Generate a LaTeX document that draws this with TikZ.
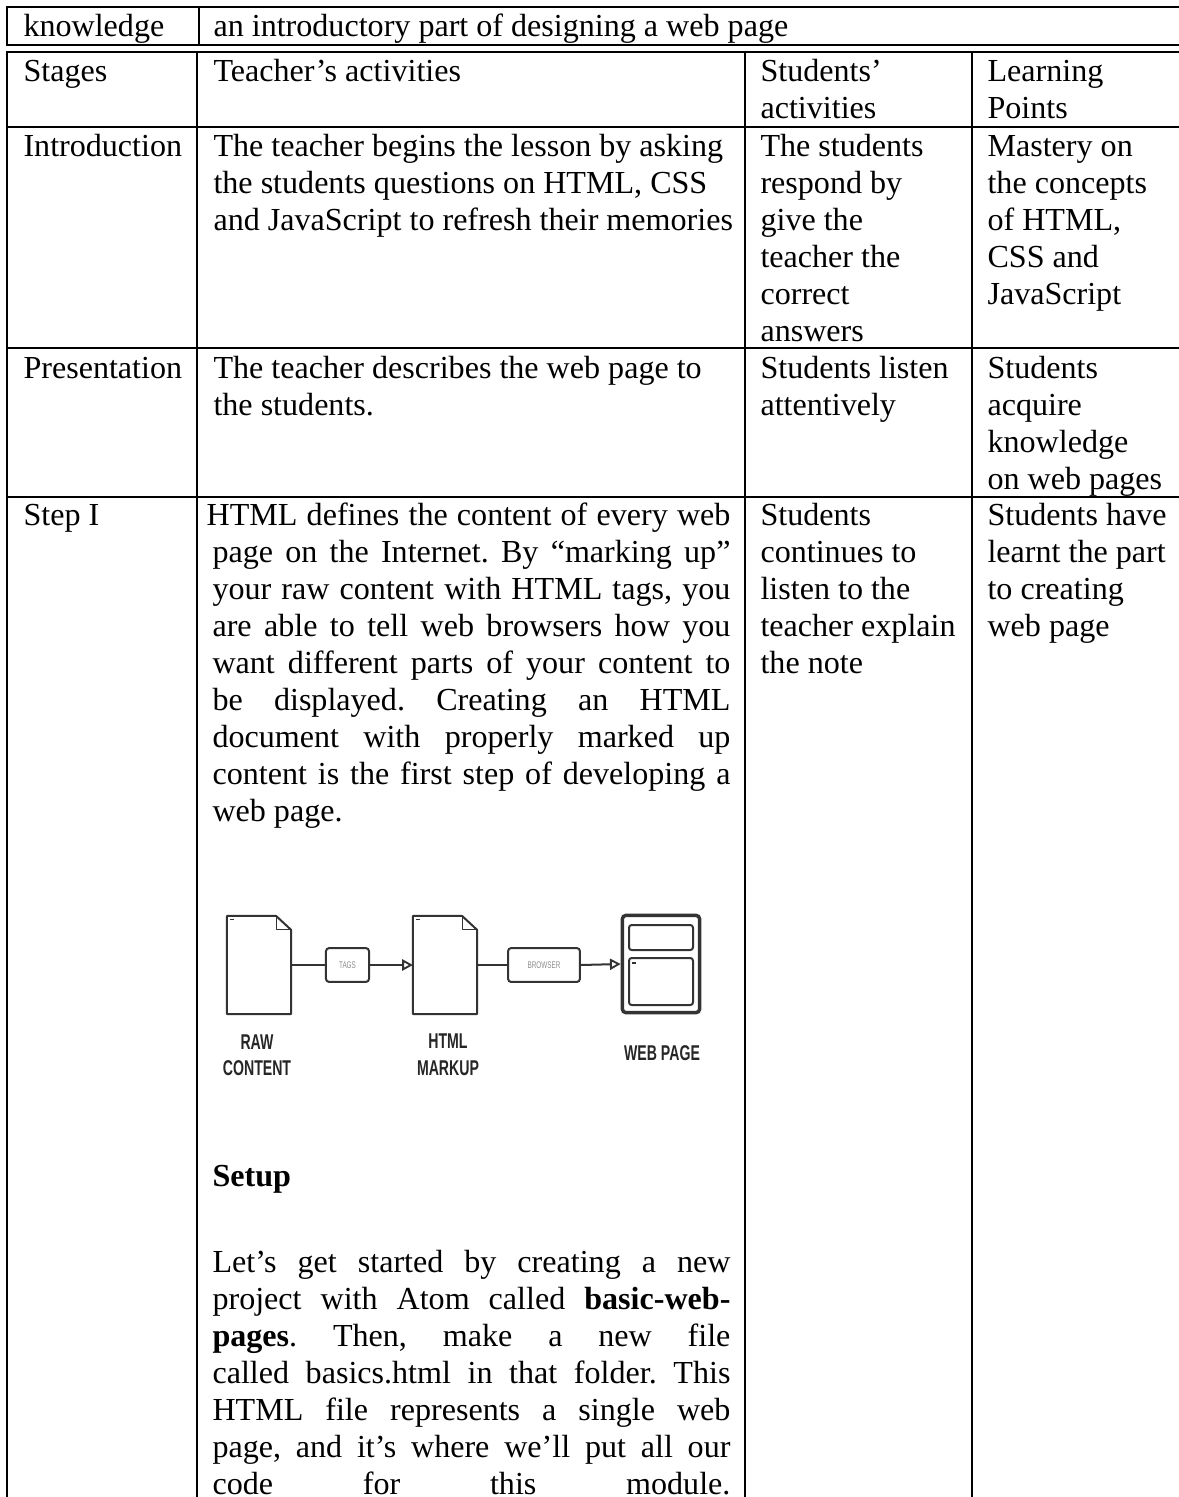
\documentclass[tikz,border=0pt]{standalone}
\usepackage{fontspec}
\usepackage{graphicx}
\setmainfont{Liberation Serif}
\newfontfamily\lblfont[FakeStretch=0.66]{Liberation Sans}
\usetikzlibrary{arrows.meta}
\definecolor{dgray}{HTML}{333333}
\newcommand\cellfont{\fontsize{12}{13.85}\selectfont}
\frenchspacing
\begin{document}
\begin{tikzpicture}[x=0.374pt, y=-0.374pt,
  tbl/.style={line width=0.8pt, line cap=rect, draw=black},
  cell/.style={anchor=north west, inner sep=0pt, align=left, font=\cellfont},
  jcell/.style={anchor=north west, inner sep=0pt, text width=193.7pt, align=justify, font=\cellfont},
  dg/.style={draw=dgray, line width=0.75pt, line join=round},
  conn/.style={draw=dgray, line width=0.75pt},
  arr/.style={conn, -{Triangle[open, length=4pt, width=4.2pt, line width=0.7pt]}},
  docnode/.style={draw=none, minimum width=23.6pt, minimum height=36.3pt, inner sep=0pt},
  lbox/.style={draw=dgray, line width=0.75pt, rounded corners=1.2pt, minimum height=12.7pt, inner sep=0pt, font=\lblfont\fontsize{3.6}{4}\selectfont, text=black!45},
  lbl/.style={anchor=base, inner sep=0pt, font=\lblfont\bfseries\fontsize{8}{9.35}\selectfont, text=black!85}
]
\useasboundingbox (0,0) rectangle (1179,1497);
\fill[white] (0,0) rectangle (1179,1497);

% ---- first (one-row) table
\draw[tbl] (1195,7) -- (7,7) -- (7,45) -- (1195,45);
\draw[tbl] (199,7) -- (199,45);
% ---- main table
\draw[tbl] (1195,52) -- (7,52) -- (7,1510);
\foreach \yy in {127,348,497} \draw[tbl] (7,\yy) -- (1195,\yy);
\foreach \xx in {197,745,972} \draw[tbl] (\xx,52) -- (\xx,1510);

% ---- row texts
\node[cell] (k1) at (23,10) {\strut knowledge};
\node[cell] (k2) at (213,10) {\strut an introductory part of designing a web page};

\node[cell] (h1) at (23,55) {\strut Stages};
\node[cell] (h2) at (213,55) {\strut Teacher’s activities};
\node[cell] (h3) at (760,55) {\strut Students’\\activities};
\node[cell] (h4) at (987,55) {\strut Learning\\Points};

\node[cell] (i1) at (23,130) {\strut Introduction};
\node[cell] (i2) at (213,130) {\strut The teacher begins the lesson by asking\\the students questions on HTML, CSS\\and JavaScript to refresh their memories};
\node[cell] (i3) at (760,130) {\strut The students\\respond by\\give the\\teacher the\\correct\\answers};
\node[cell] (i4) at (987,130) {\strut Mastery on\\the concepts\\of HTML,\\CSS and\\JavaScript};

\node[cell] (p1) at (23,352) {\strut Presentation};
\node[cell] (p2) at (213,352) {\strut The teacher describes the web page to\\the students.};
\node[cell] (p3) at (760,352) {\strut Students listen\\attentively};
\node[cell] (p4) at (987,352) {\strut Students\\acquire\\knowledge\\on web pages};

\node[cell] (s1) at (23,499) {\strut Step I};
\node[jcell] (s2) at (212,499) {\parindent=0pt\tolerance=10000\hbadness=10000\hyphenpenalty=10000%
\hspace*{-2.2pt}\strut HTML defines the content of every web\linebreak
page on the Internet. By “marking up”\linebreak
your raw content with HTML tags, you\linebreak
are able to tell web browsers how you\linebreak
want different parts of your content to\linebreak
be displayed. Creating an HTML\linebreak
document with properly marked up\linebreak
content is the first step of developing a\linebreak
web page.};
\node[cell] (s3) at (760,499) {\strut Students\\continues to\\listen to the\\teacher explain\\the note};
\node[cell] (s4) at (987,499) {\strut Students have\\learnt the part\\to creating\\web page};

% ---- diagram
\node[docnode] (raw) at (259,965) {};
\node[docnode] (htm) at (445,965) {};
\node[lbox, minimum width=16.1pt] (b1) at (347.5,965) {TAGS};
\node[lbox, minimum width=26.9pt] (b2) at (544,965) {BROWSER};
\node[draw=dgray, line width=1pt, rounded corners=1.5pt, minimum width=29.2pt, minimum height=36.7pt, inner sep=0pt] (web) at (661,964) {};

\foreach \d in {raw,htm} {
  \draw[dg] (\d.south west) -- (\d.north west) -- ([xshift=-5.6pt]\d.north east) -- ([yshift=-5.2pt]\d.north east) -- (\d.south east) -- cycle;
  \draw[dg, line width=0.45pt] ([xshift=-5.6pt]\d.north east) -- ([xshift=-5.6pt,yshift=-5.2pt]\d.north east) -- ([yshift=-5.2pt]\d.north east);
  \draw[dg, line width=0.4pt] ([shift={(1.3pt,-1.3pt)}]\d.north west) -- ++(1.2pt,0);
}
\draw[dg, line width=0.4pt, rounded corners=1pt] ([shift={(1.1pt,-1.1pt)}]web.north west) rectangle ([shift={(-1.1pt,1.1pt)}]web.south east);
\draw[dg, rounded corners=1pt] (629,925) rectangle (693,950);
\draw[dg, rounded corners=1pt] (629,958) rectangle (693,1005);
\draw[dg, line width=0.4pt] (632,963) -- (636,963);

\draw[conn] (raw.east) -- (b1.west);
\draw[arr] (b1.east) -- (htm.west);
\draw[conn] (htm.east) -- (b2.west);
\draw[arr] (b2.east) -- (web.west);

\node[lbl] (rawA) at (257,1049) {RAW};
\node[lbl] (rawB) at (257,1075) {CONTENT};
\node[lbl] (htmA) at (448,1048) {HTML};
\node[lbl] (htmB) at (448,1075) {MARKUP};
\node[lbl] (webL) at (662,1060) {WEB PAGE};

% ---- setup
\node[cell, font=\cellfont\bfseries] (setup) at (212,1160) {\strut Setup};
\node[jcell] (sp) at (212,1246) {\parindent=0pt\tolerance=10000\hbadness=10000\hyphenpenalty=10000
\strut Let’s get started by creating a new\linebreak
project with Atom called \textbf{basic-web-}\linebreak
\textbf{pages}. Then, make a new file\linebreak
called basics.html in that folder. This\linebreak
HTML file represents a single web\linebreak
page, and it’s where we’ll put all our\linebreak
\hbox to \hsize{code\hfill for\hfill this\hfill module.}};
\end{tikzpicture}
\end{document}
